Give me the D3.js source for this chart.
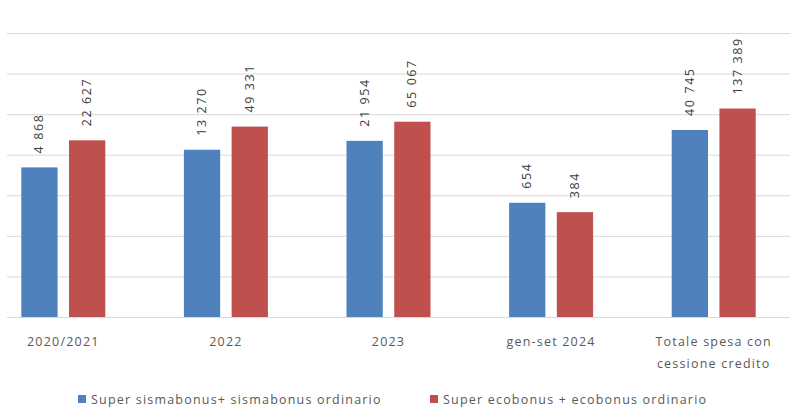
<!DOCTYPE html>
<html>
<head>
<meta charset="utf-8">
<script src="https://cdn.jsdelivr.net/npm/d3@7"></script>
<style>
  body { margin: 0; background: #fff; }
  svg text { font-family: "Open Sans", "Noto Sans", sans-serif; fill: #595959; letter-spacing: 1.2px; }
</style>
</head>
<body>
<div id="chart"></div>
<script>
var categories = ["2020/2021", "2022", "2023", "gen-set 2024", "Totale spesa con\ncessione credito"];
var seriesNames = ["Super sismabonus+ sismabonus ordinario", "Super ecobonus + ecobonus ordinario"];
var sismabonus = [4868, 13270, 21954, 654, 40745];
var ecobonus = [22627, 49331, 65067, 384, 137389];
var gridValues = [1, 10, 100, 1000, 10000, 100000, 1000000, 10000000];
var colors = ["#4F81BD", "#C0504D"];

var width = 790, height = 407;
var fmt = d3.formatLocale({decimal: ",", thousands: " ", grouping: [3], currency: ["", "€"]}).format(",d");

var svg = d3.select("#chart")
    .append("svg")
    .attr("width", width)
    .attr("height", height);

var x = d3.scaleBand()
    .domain(categories)
    .range([-18, 795]);

var xInner = d3.scaleBand()
    .domain([0, 1])
    .range([x.bandwidth() / 2 - 42, x.bandwidth() / 2 + 42])
    .paddingInner(0.24);

var y = d3.scaleLog()
    .domain([1, 1e7])
    .range([317, 33]);

// gridlines
var grid = svg.append("g")
    .attr("transform", "translate(7,0)")
    .call(d3.axisLeft(y).tickValues(gridValues).tickSize(-(width - 7)).tickFormat(""));
grid.select(".domain").remove();
grid.selectAll("line").attr("stroke", "#d9d9d9");

var rows = categories.map(function(c, i) {
    return {cat: c, values: [sismabonus[i], ecobonus[i]]};
});

var groups = svg.append("g")
    .selectAll("g")
    .data(rows)
    .enter()
    .append("g")
    .attr("transform", function(d) { return "translate(" + x(d.cat) + ",0)"; });

groups.selectAll("rect")
    .data(function(d) { return d.values; })
    .enter()
    .append("rect")
    .attr("x", function(d, i) { return xInner(i); })
    .attr("width", xInner.bandwidth())
    .attr("y", function(d) { return y(d); })
    .attr("height", function(d) { return y(1) - y(d); })
    .attr("fill", function(d, i) { return colors[i]; });

groups.selectAll("text.val")
    .data(function(d) { return d.values; })
    .enter()
    .append("text")
    .attr("class", "val")
    .attr("transform", function(d, i) {
        return "translate(" + (xInner(i) + xInner.bandwidth() / 2 + 4) + "," + (y(d) - 14) + ") rotate(-90)";
    })
    .attr("font-size", 12.5)
    .style("letter-spacing", "1.6px")
    .style("fill", "#404040")
    .text(function(d) { return fmt(d); });

// category labels
var xl = svg.append("g");
categories.forEach(function(c) {
    var t = xl.append("text")
        .attr("x", x(c) + x.bandwidth() / 2)
        .attr("y", 346)
        .attr("text-anchor", "middle")
        .attr("font-size", 12.5);
    c.split("\n").forEach(function(line, j) {
        t.append("tspan")
            .attr("x", x(c) + x.bandwidth() / 2)
            .attr("dy", j === 0 ? 0 : 22)
            .text(line);
    });
});

// legend
var legendX = [78, 430];
var legend = svg.append("g")
    .selectAll("g")
    .data(seriesNames)
    .enter()
    .append("g")
    .attr("transform", function(d, i) { return "translate(" + legendX[i] + ",395)"; });

legend.append("rect")
    .attr("width", 8)
    .attr("height", 8)
    .attr("fill", function(d, i) { return colors[i]; });

legend.append("text")
    .attr("x", 13)
    .attr("y", 8.5)
    .attr("font-size", 12.5)
    .text(function(d) { return d; });
</script>
</body>
</html>
